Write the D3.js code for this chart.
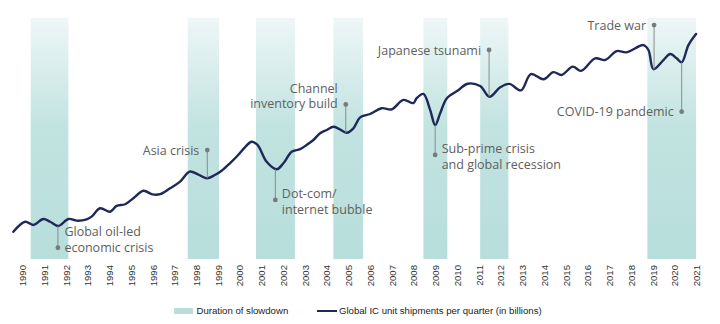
<!DOCTYPE html>
<html>
<head>
<meta charset="utf-8">
<script src="https://cdn.jsdelivr.net/npm/d3@7/dist/d3.min.js"></script>
<style>
  html, body { margin: 0; padding: 0; background: #fff; }
  svg { display: block; }
</style>
</head>
<body>
<svg id="chart" width="720" height="324"></svg>
<script>
// ---- data ----
const years = d3.range(1990, 2022);
// sample times (fractional year) and quarterly IC unit shipments (billions)
const sampleTime = [1989.57,1990.11,1990.49,1990.95,1991.26,1991.64,1992.10,1992.48,1992.94,1993.17,
  1993.56,1994.02,1994.32,1994.71,1995.09,1995.55,1995.97,1996.32,1996.78,1997.24,1997.68,
  1998.06,1998.46,1998.84,1999.15,1999.53,1999.91,2000.23,2000.53,2000.80,2001.22,2001.68,2001.99,2002.37,
  2002.76,2003.06,2003.37,2003.68,2003.98,2004.29,2004.55,2004.90,2005.21,2005.52,2005.98,2006.51,
  2006.97,2007.51,2007.97,2008.12,2008.43,2008.74,2008.97,2009.20,2009.51,2010.03,2010.46,
  2011.04,2011.47,2011.96,2012.38,2012.92,2013.37,2013.95,2014.41,2014.79,2015.30,2015.68,2016.33,
  2016.79,2017.32,2017.78,2018.55,2018.78,2019.01,2019.47,2019.78,2020.08,2020.31,2020.62,2020.97];
const shipments = [12.3,17.0,15.5,18.3,17.0,15.0,18.3,17.5,18.1,19.4,
  23.3,21.7,24.4,25.2,28.0,31.5,29.8,29.9,32.7,35.8,40.5,
  39.2,37.4,38.9,40.9,44.4,48.3,52.0,54.5,53.0,45.1,41.6,44.4,49.8,
  51.0,53.0,55.3,58.5,60.0,61.5,60.5,58.7,60.8,65.9,67.5,70.2,
  69.7,74.1,72.6,74.9,76.9,69.4,62.3,67.8,74.9,78.6,81.7,
  80.6,75.6,80.0,81.6,78.6,86.2,83.8,87.1,85.8,89.7,87.7,93.6,
  92.8,97.0,96.4,99.8,97.5,88.5,92.8,95.6,93.6,91.7,99.8,105.0];
// slowdown periods [start, end]
const slowStart = [1990.37, 1997.59, 2000.73, 2004.29, 2008.43, 2011.04, 2018.73];
const slowEnd   = [1992.10, 1999.03, 2002.52, 2005.65, 2009.53, 2012.34, 2020.97];
// annotations
const annLabels = [
  ["Global oil-led", "economic crisis"],
  ["Asia crisis"],
  ["Dot-com/", "internet bubble"],
  ["Channel", "inventory build"],
  ["Sub-prime crisis", "and global recession"],
  ["Japanese tsunami"],
  ["Trade war"],
  ["COVID-19 pandemic"]
];
const annTime     = [1991.62, 1998.49, 2001.62, 2004.86, 2008.97, 2011.45, 2019.04, 2020.31];
const annCurveVal = [15.0, 37.4, 41.6, 58.7, 62.3, 75.7, 88.4, 91.7];
const annDotVal   = [4.8, 50.6, 27.2, 72.0, 48.3, 97.5, 109.2, 68.6];
const annSide     = ["right", "left", "right", "left", "right", "left", "left", "left"];
const legendLabels = ["Duration of slowdown", "Global IC unit shipments per quarter (in billions)"];

// ---- layout ----
const svg = d3.select("#chart");
const plotTop = 18, plotBottom = 259;
const x = d3.scaleLinear().domain([1990, 2021]).range([22.7, 696.7]);
const y = d3.scaleLinear().domain([0, 120]).range([258, 2]);

const bandColor = "#b7dedb";
const lineColor = "#1f2858";

const defs = svg.append("defs");
const grad = defs.append("linearGradient").attr("id", "bandGrad")
  .attr("x1", 0).attr("y1", 1).attr("x2", 0).attr("y2", 0);
grad.append("stop").attr("offset", "0%").attr("stop-color", bandColor).attr("stop-opacity", 1);
grad.append("stop").attr("offset", "55%").attr("stop-color", bandColor).attr("stop-opacity", 0.85);
grad.append("stop").attr("offset", "100%").attr("stop-color", bandColor).attr("stop-opacity", 0.25);

// bands
svg.append("g").selectAll("rect").data(slowStart).join("rect")
  .attr("x", (d) => x(d))
  .attr("width", (d, i) => x(slowEnd[i]) - x(d))
  .attr("y", plotTop)
  .attr("height", plotBottom - plotTop)
  .attr("fill", "url(#bandGrad)");

// line
const pts = sampleTime.map((t, i) => [t, shipments[i]]);
const line = d3.line().x(d => x(d[0])).y(d => y(d[1])).curve(d3.curveCatmullRom.alpha(0.5));
svg.append("path").datum(pts)
  .attr("d", line)
  .attr("fill", "none")
  .attr("stroke", lineColor)
  .attr("stroke-width", 2.4)
  .attr("stroke-linejoin", "round")
  .attr("stroke-linecap", "round");

// annotations
const ag = svg.append("g");
annLabels.forEach((lines, i) => {
  const ax = x(annTime[i]);
  const cy = y(annCurveVal[i]);
  const dy = y(annDotVal[i]);
  ag.append("line").attr("x1", ax).attr("x2", ax).attr("y1", cy).attr("y2", dy)
    .attr("stroke", "#8a8a8a").attr("stroke-width", 1);
  ag.append("circle").attr("cx", ax).attr("cy", dy).attr("r", 2.4).attr("fill", "#7a7a7a");
  const right = annSide[i] === "right";
  const tx = right ? ax + 6.5 : ax - 8;
  const n = lines.length;
  lines.forEach((ln, j) => {
    let cyLine;
    if (n === 1) cyLine = dy;
    else if (right && i !== 0) cyLine = dy - 6.7 + j * 16.3;
    else cyLine = dy - 16 + j * 15.5;
    ag.append("text")
      .attr("x", tx).attr("y", cyLine).attr("dy", "0.36em")
      .attr("text-anchor", right ? "start" : "end")
      .attr("font-family", "'Open Sans', sans-serif")
      .attr("font-size", 12.5)
      .attr("fill", "#606060")
      .text(ln);
  });
});

// x axis tick labels
svg.append("g").selectAll("text").data(years).join("text")
  .attr("transform", d => `translate(${x(d)},265) rotate(-90)`)
  .attr("text-anchor", "end")
  .attr("dy", "0.35em")
  .attr("font-family", "'Liberation Sans', Arial, sans-serif")
  .attr("font-size", 9.6)
  .attr("fill", "#333")
  .text(d => d);

// legend
const lg = svg.append("g").attr("font-family", "'Liberation Sans', Arial, sans-serif").attr("font-size", 9.6).attr("fill", "#222");
lg.append("rect").attr("x", 174).attr("y", 308).attr("width", 19).attr("height", 6).attr("fill", bandColor);
lg.append("text").attr("x", 196.5).attr("y", 311).attr("dy", "0.35em").text(legendLabels[0]);
lg.append("line").attr("x1", 317).attr("x2", 337).attr("y1", 311).attr("y2", 311).attr("stroke", lineColor).attr("stroke-width", 2);
lg.append("text").attr("x", 339).attr("y", 311).attr("dy", "0.35em").text(legendLabels[1]);
</script>
</body>
</html>
